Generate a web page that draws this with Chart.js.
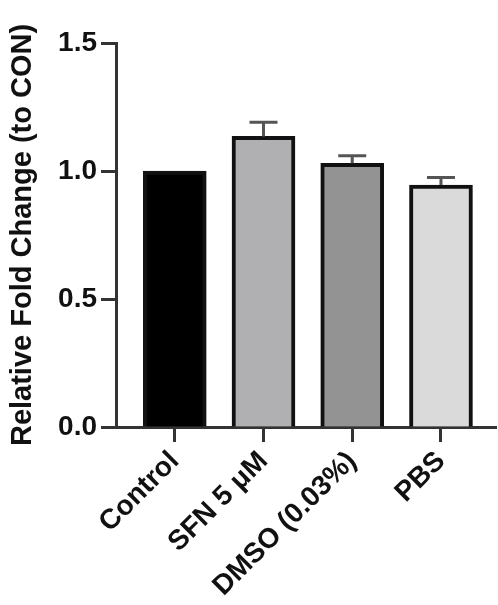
<!DOCTYPE html>
<html>
<head>
<meta charset="utf-8">
<script src="https://cdn.jsdelivr.net/npm/chart.js@4"></script>
<style>
  html, body { margin: 0; padding: 0; background: #fff; }
  #wrap { width: 498px; height: 605px; }
</style>
</head>
<body>
<div id="wrap"><canvas id="foldChart"></canvas></div>
<script>
const categories = ['Control', 'SFN 5 μM', 'DMSO (0.03%)', 'PBS'];
const means = [1.0, 1.135, 1.03, 0.945];
const sems = [0, 0.055, 0.03, 0.03];
const barColors = ['#000000', '#b0b0b2', '#939393', '#dadada'];
const yTicks = [0, 0.5, 1.0, 1.5];

const axisColor = '#333333';
const fontFamily = "'Liberation Sans', Arial, sans-serif";

// error bars drawn on top of the bars (mean + SEM only)
const errorBars = {
    id: 'errorBars',
    afterDatasetsDraw(chart) {
        const ctx = chart.ctx;
        const xs = chart.scales.x, ys = chart.scales.y;
        ctx.save();
        ctx.strokeStyle = '#555555';
        ctx.lineWidth = 3;
        sems.forEach((e, i) => {
            if (!e) return;
            const x = xs.getPixelForValue(i);
            const y0 = ys.getPixelForValue(means[i]);
            const y1 = ys.getPixelForValue(means[i] + e);
            ctx.beginPath();
            ctx.moveTo(x, y0);
            ctx.lineTo(x, y1);
            ctx.moveTo(x - 14, y1);
            ctx.lineTo(x + 14, y1);
            ctx.stroke();
        });
        ctx.restore();
    }
};

const ctx = document.getElementById('foldChart').getContext('2d');
new Chart(ctx, {
    type: 'bar',
    data: {
        datasets: [{
            data: means.map((v, i) => ({ x: i, y: v })),
            backgroundColor: barColors,
            borderColor: '#111111',
            borderWidth: 4,
            barThickness: 63
        }]
    },
    options: {
        responsive: true,
        maintainAspectRatio: false,
        animation: false,
        events: [],
        layout: { padding: { top: 43, right: 2, left: 0, bottom: 0 } },
        plugins: { legend: { display: false }, tooltip: { enabled: false } },
        scales: {
            x: {
                type: 'linear',
                offset: false,
                min: -0.662,
                max: 3.62,
                afterBuildTicks: s => { s.ticks = categories.map((c, i) => ({ value: i })); },
                afterFit: s => { s.height = 178; },
                border: { display: true, color: axisColor, width: 3 },
                grid: {
                    offset: false,
                    drawOnChartArea: false,
                    drawTicks: true,
                    tickLength: 15,
                    tickWidth: 3,
                    tickColor: axisColor
                },
                ticks: {
                    autoSkip: false,
                    minRotation: 45,
                    maxRotation: 45,
                    padding: 3,
                    color: '#111',
                    font: { family: fontFamily, size: 28, weight: 'bold' },
                    callback: v => categories[v]
                }
            },
            y: {
                min: 0,
                max: 1.5,
                afterBuildTicks: s => { s.ticks = yTicks.map(v => ({ value: v })); },
                afterFit: s => { s.width = 116; },
                border: { display: true, color: axisColor, width: 3 },
                grid: {
                    drawOnChartArea: false,
                    drawTicks: true,
                    tickLength: 15,
                    tickWidth: 3,
                    tickColor: axisColor
                },
                ticks: {
                    padding: 4,
                    color: '#111',
                    font: { family: fontFamily, size: 28, weight: 'bold' },
                    callback: v => v.toFixed(1)
                },
                title: {
                    display: true,
                    text: 'Relative Fold Change (to CON)',
                    color: '#111',
                    padding: { top: 6, bottom: 0 },
                    font: { family: fontFamily, size: 29, weight: 'bold' }
                }
            }
        }
    },
    plugins: [errorBars]
});
</script>
</body>
</html>
